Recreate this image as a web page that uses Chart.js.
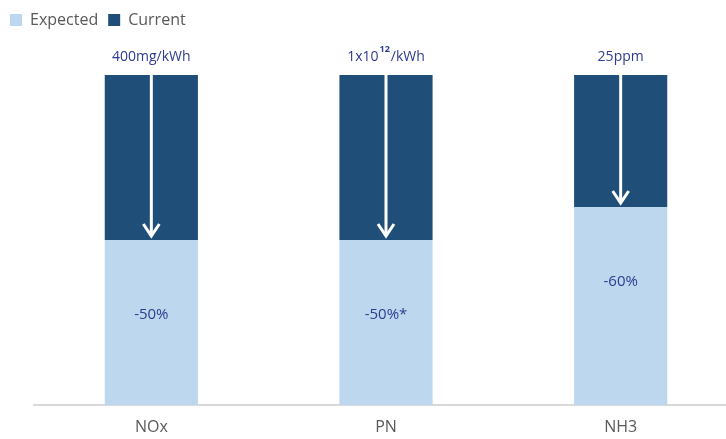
<!DOCTYPE html>
<html>
<head>
<meta charset="utf-8">
<script src="https://cdn.jsdelivr.net/npm/chart.js@4"></script>
<style>
  html, body { margin: 0; padding: 0; background: #fff; overflow: hidden; }
  #wrap { width: 738px; height: 439px; position: relative; }
</style>
</head>
<body>
<div id="wrap"><canvas id="chart"></canvas></div>
<script>
// chart data
const categories = ["NOx", "PN", "NH3"];
const expectedValues = [50, 50, 60];
const currentValues = [50, 50, 40];
const reductionLabels = ["-50%", "-50%*", "-60%"];
// limit labels above bars: [text, superscript, text after]
const limitLabels = [["400mg/kWh"], ["1x10", "12", "/kWh"], ["25ppm"]];

const FONT = "'Open Sans', sans-serif";
const TEXT_GREY = "#595959";
const LABEL_BLUE = "#2E3B8E";

// push plot area down below the legend
const legendMargin = {
  id: "legendMargin",
  beforeInit(chart) {
    const fit = chart.legend.fit;
    chart.legend.fit = function () {
      fit.bind(chart.legend)();
      this.height += 37;
    };
  },
};

// arrows, limit labels and reduction labels
const annotations = {
  id: "annotations",
  afterDatasetsDraw(chart) {
    const ctx = chart.ctx;
    const current = chart.getDatasetMeta(1).data;
    const expected = chart.getDatasetMeta(0).data;

    ctx.save();
    current.forEach((bar, i) => {
      const x = bar.x;
      const top = bar.y;
      const tip = bar.base - 4;

      // white arrow
      ctx.strokeStyle = "#ffffff";
      ctx.lineWidth = 3;
      ctx.lineCap = "butt";
      ctx.beginPath();
      ctx.moveTo(x, top);
      ctx.lineTo(x, tip);
      ctx.stroke();
      ctx.lineJoin = "miter";
      ctx.beginPath();
      ctx.moveTo(x - 8, tip - 12);
      ctx.lineTo(x, tip);
      ctx.lineTo(x + 8, tip - 12);
      ctx.stroke();

      // limit label above bar
      const parts = limitLabels[i];
      ctx.fillStyle = LABEL_BLUE;
      ctx.textBaseline = "middle";
      ctx.textAlign = "left";
      const mainFont = "14px " + FONT;
      const supFont = "bold 9px " + FONT;
      let total = 0;
      parts.forEach((p, k) => {
        ctx.font = k === 1 ? supFont : mainFont;
        total += ctx.measureText(p).width + (k === 1 ? 2 : 0);
      });
      let cx = x - total / 2;
      const ly = top - 18;
      parts.forEach((p, k) => {
        ctx.font = k === 1 ? supFont : mainFont;
        ctx.fillText(p, cx + (k === 1 ? 1 : 0), k === 1 ? ly - 8 : ly);
        cx += ctx.measureText(p).width + (k === 1 ? 2 : 0);
      });

      // reduction label inside expected bar
      ctx.font = "15px " + FONT;
      ctx.textAlign = "center";
      ctx.fillText(reductionLabels[i], expected[i].x, expected[i].y + 75);
    });
    ctx.restore();
  },
};

new Chart(document.getElementById("chart"), {
  type: "bar",
  data: {
    labels: categories,
    datasets: [
      {
        label: "Expected",
        data: expectedValues,
        backgroundColor: "#BDD7EE",
        borderWidth: 0,
      },
      {
        label: "Current",
        data: currentValues,
        backgroundColor: "#1F4E79",
        borderWidth: 0,
      },
    ],
  },
  options: {
    responsive: true,
    maintainAspectRatio: false,
    animation: false,
    layout: { padding: { top: 2, right: 0, bottom: 0, left: 0 } },
    datasets: {
      bar: { barPercentage: 1, categoryPercentage: 0.397 },
    },
    plugins: {
      legend: {
        position: "top",
        align: "start",
        labels: {
          color: TEXT_GREY,
          boxWidth: 12,
          boxHeight: 12,
          padding: 10,
          font: { family: FONT, size: 16 },
        },
      },
      tooltip: { enabled: false },
    },
    scales: {
      x: {
        stacked: true,
        grid: { display: false, drawTicks: false },
        border: { color: "#D9D9D9", width: 2 },
        ticks: {
          color: TEXT_GREY,
          padding: 13,
          font: { family: FONT, size: 16 },
        },
        afterFit(axis) {
          axis.height = 34;
        },
      },
      y: {
        stacked: true,
        min: 0,
        max: 100,
        grid: { display: false, drawTicks: false },
        border: { display: false },
        ticks: { display: false },
        afterFit(axis) {
          axis.width = 34;
        },
      },
    },
  },
  plugins: [legendMargin, annotations],
});
</script>
</body>
</html>
